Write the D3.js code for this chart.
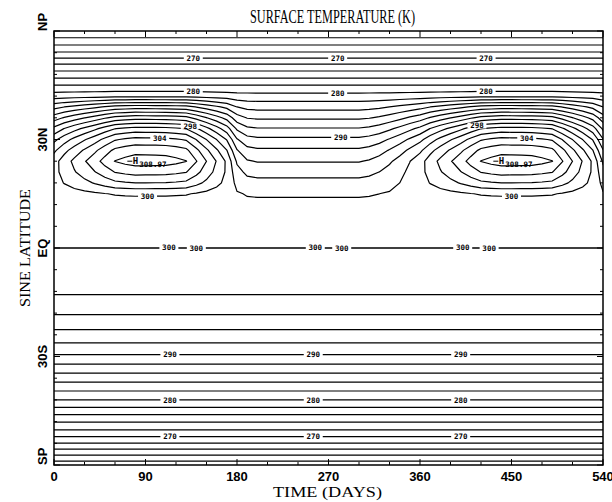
<!DOCTYPE html>
<html>
<head>
<meta charset="utf-8">
<script src="https://cdn.jsdelivr.net/npm/d3@7"></script>
<style>
  body { margin: 0; background: #fff; }
  svg { display: block; }
  .title { font-family: "Liberation Serif", serif; font-size: 18px; }
  .axis-title { font-family: "Liberation Serif", serif; font-size: 15px; }
  .tick-label { font-family: "Liberation Sans", Arial, sans-serif; font-weight: bold; font-size: 13px; }
  .clabel { font-family: "DejaVu Sans Mono", monospace; font-weight: bold; font-size: 7.5px; }
  .clabel text { opacity: 0.99; }
</style>
</head>
<body>
<svg></svg>
<script>
// sine of latitude at the grid rows, north pole to south pole
const sineNodes = [1.00, 0.95, 0.90, 0.85, 0.80, 0.75, 0.70, 0.65, 0.60, 0.55,
  0.50, 0.45, 0.40, 0.35, 0.30, 0.25, 0.20, 0.15, 0.10, 0.05,
  0.00, -0.05, -0.10, -0.15, -0.20, -0.25, -0.30, -0.35, -0.40, -0.45,
  -0.50, -0.55, -0.60, -0.65, -0.70, -0.75, -0.80, -0.85, -0.90, -0.95, -1.00]

// surface temperature (K) in the quiet season (days 180-360)
const flatTemp = [262.2, 265.1, 268.2, 271.86, 274.97, 278.05, 280.76, 283.32, 285.71, 288.15,
  290.47, 292.34, 293.88, 295.33, 296.59, 297.85, 298.3, 298.5, 298.7, 298.9,
  300.02, 298.9, 298.7, 298.5, 298.3, 297.28, 296.2, 294.81, 293.27, 291.56,
  289.67, 287.27, 284.86, 282.44, 280.02, 277.08, 274.13, 271.31, 267.93, 264.29, 260.7]

// surface temperature (K) at the height of the northern warm season
const peakTemp = [262.2, 265.1, 268.2, 271.86, 274.97, 278.05, 281.5, 289.0, 295.2, 300.7,
  304.65, 307.35, 308.97, 306.76, 304.0, 300.3, 299.0, 298.9, 298.9, 299.0,
  300.02, 298.9, 298.7, 298.5, 298.3, 297.28, 296.2, 294.81, 293.27, 291.56,
  289.67, 287.27, 284.86, 282.44, 280.02, 277.08, 274.13, 271.31, 267.93, 264.29, 260.7]

// time columns (days) and how far the warm season has developed
const days = [0, 10, 20, 30, 40, 50, 60, 70, 80, 90, 100, 110, 120, 130, 140, 150, 160, 170, 180,
  190, 200, 210, 220, 230, 240, 250, 260, 270, 280, 290, 300, 310, 320, 330, 340, 350, 360,
  370, 380, 390, 400, 410, 420, 430, 440, 450, 460, 470, 480, 490, 500, 510, 520, 530, 540]
const bumpWeight = [0.35, 0.47, 0.57, 0.66, 0.75, 0.85, 0.94, 0.975, 1.0, 0.998, 0.995, 0.99, 0.97, 0.94, 0.81, 0.67, 0.53, 0.38, 0.12,
  0.02, 0, 0, 0, 0, 0, 0, 0, 0, 0, 0, 0, 0.02, 0.06, 0.12, 0.19, 0.27, 0.35,
  0.47, 0.57, 0.66, 0.75, 0.85, 0.94, 0.975, 1.0, 0.998, 0.995, 0.99, 0.97, 0.94, 0.81, 0.67, 0.53, 0.38, 0.12]

const levels = [262, 264, 266, 268, 270, 272, 274, 276, 278, 280, 282, 284, 286, 288, 290,
  292, 294, 296, 298, 300, 302, 304, 306, 308]

// contour labels: level, day, sine latitude near the label
const contourLabels = [
  [270, 137, 0.87], [270, 279, 0.87], [270, 425, 0.87],
  [280, 137, 0.71], [280, 279, 0.71], [280, 425, 0.71],
  [298, 134, 0.58], [290, 282, 0.51], [298, 416, 0.58],
  [304, 104, 0.51], [304, 465, 0.51],
  [300, 92, 0.24], [300, 450, 0.24],
  [300, 113, 0.01], [300, 140, -0.01], [300, 257, 0.01], [300, 283, -0.01], [300, 402, 0.01], [300, 428, -0.01],
  [290, 114, -0.49], [290, 255, -0.49], [290, 400, -0.49],
  [280, 114, -0.70], [280, 255, -0.70], [280, 400, -0.70],
  [270, 114, -0.87], [270, 255, -0.87], [270, 400, -0.87]
]

const xTicks = [0, 90, 180, 270, 360, 450, 540]
const xMinor = [30, 60, 120, 150, 210, 240, 300, 330, 390, 420, 480, 510]
const yTicks = [-1, -0.5, 0, 0.5, 1]
const yTickLabels = ["SP", "30S", "EQ", "30N", "NP"]
const yMinor = [-0.9, -0.8, -0.7, -0.6, -0.4, -0.3, -0.2, -0.1, 0.1, 0.2, 0.3, 0.4, 0.6, 0.7, 0.8, 0.9]

const svg = d3.select("svg")
  .attr("width", 612)
  .attr("height", 502)

const x = d3.scaleLinear().domain([0, 540]).range([54, 603])
const y = d3.scaleLinear().domain([-1, 1]).range([465, 31])

// grid for d3.contours, row by row from the north pole
const nx = days.length
const ny = sineNodes.length
const grid = []
sineNodes.forEach((s, j) => {
  days.forEach((d, i) => {
    grid.push(flatTemp[j] + bumpWeight[i] * (peakTemp[j] - flatTemp[j]))
  })
})

const contours = d3.contours()
  .size([nx, ny])
  .thresholds(levels)(grid)

// grid coordinates are cell centres at i + 0.5
const dayOf = d3.scaleLinear().domain([0.5, nx - 0.5]).range([days[0], days[nx - 1]])
const sineOf = d3.scaleLinear().domain([0.5, ny - 0.5]).range([sineNodes[0], sineNodes[ny - 1]])

const path = d3.geoPath(d3.geoTransform({
  point: function(px, py) {
    this.stream.point(x(dayOf(px)), y(sineOf(py)))
  }
}))

svg.append("clipPath")
  .attr("id", "plot-clip")
  .append("rect")
  .attr("x", x(0))
  .attr("y", y(1))
  .attr("width", x(540) - x(0))
  .attr("height", y(-1) - y(1))

const plot = svg.append("g").attr("clip-path", "url(#plot-clip)")

plot.selectAll("path.contour")
  .data(contours)
  .enter()
  .append("path")
  .attr("class", "contour")
  .attr("d", path)
  .attr("fill", "none")
  .attr("stroke", "#000")
  .attr("stroke-width", 1.2)

// where a level crosses the column at a given day
const weightAt = d3.scaleLinear().domain(days).range(bumpWeight)
const tempAt = (j, day) => flatTemp[j] + weightAt(day) * (peakTemp[j] - flatTemp[j])

const crossing = function(level, day, hint) {
  let best = null
  for (let j = 0; j < ny - 1; j++) {
    const a = tempAt(j, day)
    const b = tempAt(j + 1, day)
    if (a !== b && (a - level) * (b - level) <= 0) {
      const s = sineNodes[j] + (level - a) / (b - a) * (sineNodes[j + 1] - sineNodes[j])
      if (best === null || Math.abs(s - hint) < Math.abs(best - hint)) best = s
    }
  }
  return best
}

const labels = plot.selectAll("g.clabel")
  .data(contourLabels)
  .enter()
  .append("g")
  .attr("class", "clabel")
  .attr("transform", (d) => `translate(${x(d[1])}, ${y(crossing(d[0], d[1], d[2]))})`)

labels.append("rect")
  .attr("x", -9.5)
  .attr("y", -3)
  .attr("width", 19)
  .attr("height", 6)
  .attr("fill", "#fff")

labels.append("text")
  .attr("text-anchor", "middle")
  .attr("dy", "0.35em")
  .text((d) => d[0])

// high marks, one per warm season
const highs = [[0, 180], [360, 540]].map((range) => {
  let best = { v: -Infinity }
  sineNodes.forEach((s, j) => {
    days.forEach((d, i) => {
      const v = grid[j * nx + i]
      if (d >= range[0] && d <= range[1] && v > best.v) best = { v: v, day: d, sine: s }
    })
  })
  return best
})

const highG = svg.selectAll("g.high")
  .data(highs)
  .enter()
  .append("g")
  .attr("class", "clabel")
  .attr("transform", (d) => `translate(${x(d.day)}, ${y(d.sine)})`)

highG.append("text")
  .attr("text-anchor", "middle")
  .attr("dy", "0.35em")
  .attr("font-size", "9px")
  .text("H")

highG.append("line")
  .attr("x1", -8).attr("x2", -3)
  .attr("y1", 0).attr("y2", 0)
  .attr("stroke", "#000")

highG.append("text")
  .attr("x", 4)
  .attr("y", 3)
  .attr("dy", "0.35em")
  .text((d) => d.v.toFixed(2))

// frame and ticks
svg.append("rect")
  .attr("x", x(0))
  .attr("y", y(1))
  .attr("width", x(540) - x(0))
  .attr("height", y(-1) - y(1))
  .attr("fill", "none")
  .attr("stroke", "#000")
  .attr("stroke-width", 1.5)

const ticks = svg.append("g").attr("stroke", "#000").attr("stroke-width", 1)

xTicks.concat(xMinor).forEach((t) => {
  const len = xTicks.includes(t) ? 6 : 3
  ticks.append("line").attr("x1", x(t)).attr("x2", x(t)).attr("y1", y(-1)).attr("y2", y(-1) - len)
  ticks.append("line").attr("x1", x(t)).attr("x2", x(t)).attr("y1", y(1)).attr("y2", y(1) + len)
})

yTicks.concat(yMinor).forEach((t) => {
  const len = yTicks.includes(t) ? 6 : 3
  ticks.append("line").attr("x1", x(0)).attr("x2", x(0) + len).attr("y1", y(t)).attr("y2", y(t))
  ticks.append("line").attr("x1", x(540)).attr("x2", x(540) - len).attr("y1", y(t)).attr("y2", y(t))
})

svg.selectAll("text.x-tick")
  .data(xTicks)
  .enter()
  .append("text")
  .attr("class", "tick-label x-tick")
  .attr("x", (d) => x(d))
  .attr("y", 481)
  .attr("text-anchor", "middle")
  .text((d) => d)

svg.selectAll("text.y-tick")
  .data(yTicks)
  .enter()
  .append("text")
  .attr("class", "tick-label y-tick")
  .attr("transform", (d) => `translate(47, ${y(d)}) rotate(-90)`)
  .attr("text-anchor", (d) => Math.abs(d) === 1 ? "start" : "middle")
  .text((d, i) => yTickLabels[i])

svg.append("text")
  .attr("class", "title")
  .attr("x", 250)
  .attr("y", 23)
  .attr("textLength", 165)
  .attr("lengthAdjust", "spacingAndGlyphs")
  .text("SURFACE TEMPERATURE (K)")

svg.append("text")
  .attr("class", "axis-title")
  .attr("x", 273)
  .attr("y", 497)
  .attr("textLength", 109)
  .attr("lengthAdjust", "spacingAndGlyphs")
  .text("TIME (DAYS)")

svg.append("text")
  .attr("class", "axis-title")
  .attr("transform", `translate(30, ${y(0) + 59}) rotate(-90)`)
  .attr("textLength", 118)
  .attr("lengthAdjust", "spacingAndGlyphs")
  .text("SINE LATITUDE")
</script>
</body>
</html>
